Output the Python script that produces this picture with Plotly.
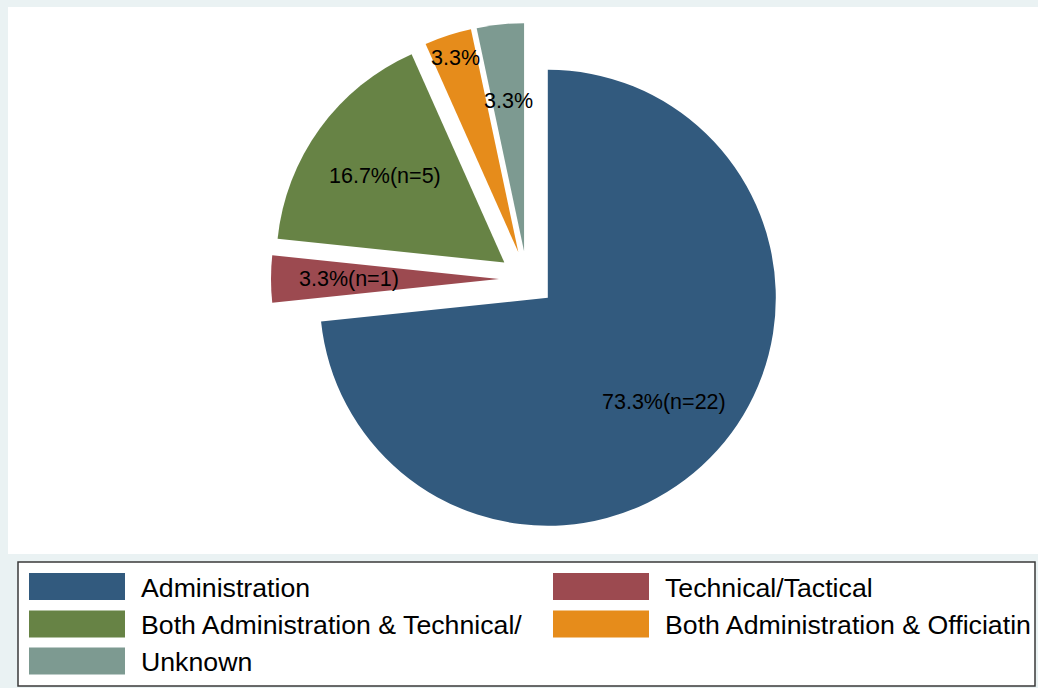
import math
import plotly.graph_objects as go

# Role categories and head counts
categories = [
    "Administration",
    "Technical/Tactical",
    "Both Administration & Technical/",
    "Both Administration & Officiatin",
    "Unknown",
]
counts = [22, 1, 5, 1, 1]
show_n = [True, True, True, False, False]
colors = ["#325A7E", "#9C4A50", "#678345", "#E68C1B", "#7D9A91"]

W, H = 1038, 688
PULL = 0.1228
# radial placement of the slice labels (fraction of radius)
label_frac = [0.685, 0.66, 0.645, 0.895, 0.66]

# pie box in pixels
cx, cy = 527.0, 279.0
box = 512.0
dom_x = [(cx - 300) / W, (cx + 300) / W]
dom_y = [1 - (cy + box / 2) / H, 1 - (cy - box / 2) / H]
radius = box / (2 + 2 * PULL)

total = sum(counts)
pcts = [c / total * 100 for c in counts]

fig = go.Figure()
fig.add_trace(go.Pie(
    labels=categories,
    values=counts,
    marker=dict(colors=colors, line=dict(width=0)),
    pull=[PULL] * len(counts),
    sort=False,
    direction="clockwise",
    rotation=0,
    textinfo="none",
    hovertemplate="%{label}: %{value} (%{percent})<extra></extra>",
    showlegend=False,
    domain=dict(x=dom_x, y=dom_y),
))

annotations = []
# slice labels along each slice's mid-angle
start = 0.0
for i, c in enumerate(counts):
    sweep = c / total * 360.0
    mid = math.radians(start + sweep / 2)
    start += sweep
    dx, dy = math.sin(mid), -math.cos(mid)
    ox = cx + PULL * radius * dx
    oy = cy + PULL * radius * dy
    lx = ox + label_frac[i] * radius * dx
    ly = oy + label_frac[i] * radius * dy
    txt = f"{pcts[i]:.1f}%" + (f"(n={c})" if show_n[i] else "")
    annotations.append(dict(
        x=lx / W, y=1 - ly / H, xref="paper", yref="paper",
        text=txt, showarrow=False, xanchor="center", yanchor="middle",
        font=dict(family="Liberation Sans, Arial, sans-serif", size=21.5, color="black"),
    ))

shapes = [
    # white plot region
    dict(type="rect", xref="paper", yref="paper", layer="below",
         x0=8 / W, x1=1.0, y0=1 - 554 / H, y1=1 - 7 / H,
         fillcolor="white", line=dict(width=0)),
    # legend frame
    dict(type="rect", xref="paper", yref="paper",
         x0=18 / W, x1=1035 / W, y0=1 - 686 / H, y1=1 - 562 / H,
         fillcolor="white", line=dict(color="#3a3a3a", width=1.5)),
]

# legend entries, two columns, row-major
col_x = [29, 553]
row_y = [586.5, 624, 661]
sw_w, sw_h = 96, 27
for i, (name, col) in enumerate(zip(categories, colors)):
    r, k = divmod(i, 2)
    x0 = col_x[k]
    yc = row_y[r]
    shapes.append(dict(
        type="rect", xref="paper", yref="paper",
        x0=x0 / W, x1=(x0 + sw_w) / W,
        y0=1 - (yc + sw_h / 2) / H, y1=1 - (yc - sw_h / 2) / H,
        fillcolor=col, line=dict(width=0),
    ))
    annotations.append(dict(
        x=(x0 + sw_w + 14) / W, y=1 - (yc + 1) / H, xref="paper", yref="paper",
        text=name, showarrow=False, xanchor="left", yanchor="middle",
        font=dict(family="Liberation Sans, Arial, sans-serif", size=26.7, color="black"),
    ))

fig.update_layout(
    width=W, height=H, autosize=False,
    margin=dict(l=0, r=0, t=0, b=0),
    paper_bgcolor="#EAF2F3",
    plot_bgcolor="#EAF2F3",
    shapes=shapes,
    annotations=annotations,
    showlegend=False,
)

fig.write_html("out.html")
